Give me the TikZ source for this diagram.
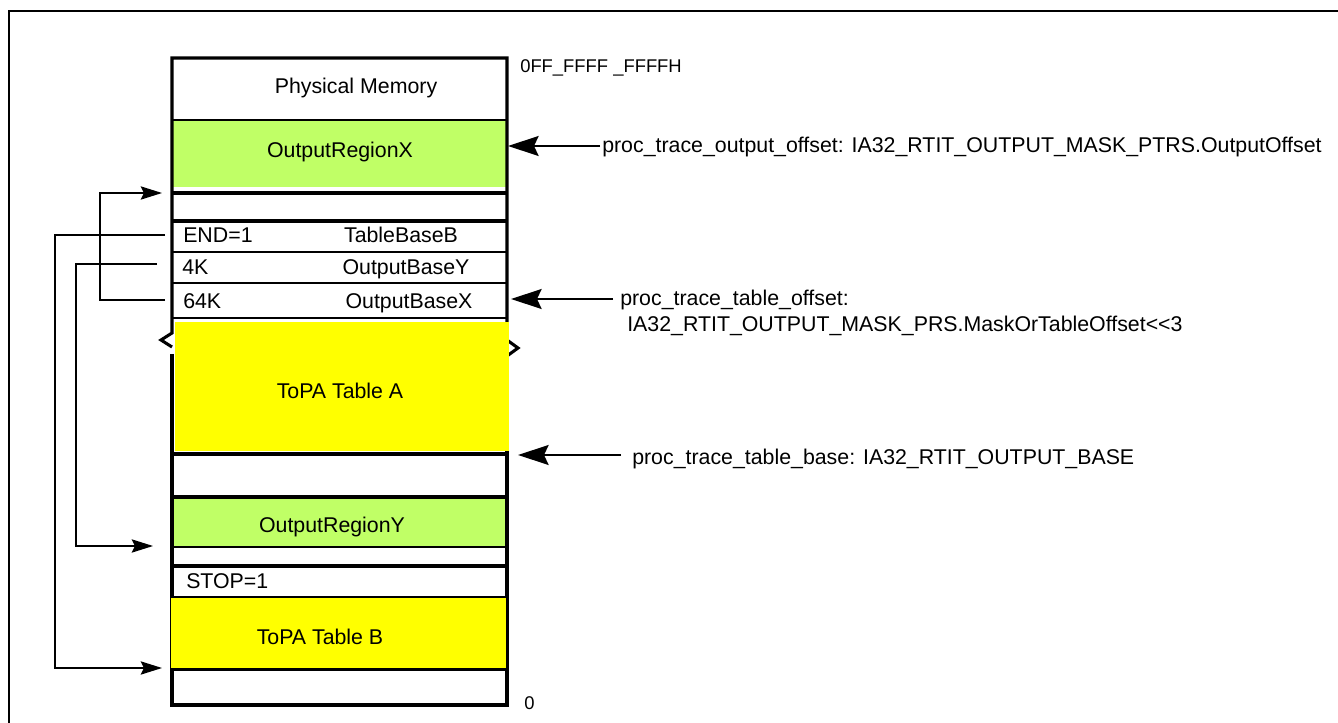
\documentclass[tikz,border=0pt]{standalone}
\usepackage{fontspec}
\setmainfont{Liberation Sans}
\usetikzlibrary{arrows.meta}
\definecolor{limegreen}{RGB}{192,255,102}
\definecolor{topayellow}{RGB}{255,255,0}
\begin{document}
\begin{tikzpicture}[x=0.75pt,y=-0.75pt,
  lbl/.style={font=\fontsize{16}{19}\selectfont, inner sep=0pt, anchor=base},
  lbll/.style={lbl, anchor=base west},
  addr/.style={font=\fontsize{13.8}{16}\selectfont, inner sep=0pt, anchor=base west},
  border/.style={line width=2.3pt, line join=miter},
  hthick/.style={line width=2.3pt},
  hthin/.style={line width=1pt},
  lconn/.style={line width=1pt, -{Stealth[length=16pt, width=10pt, inset=2.5pt]}},
  rconn/.style={line width=1pt, -{Stealth[length=23pt, width=15pt, inset=3.5pt]}}]
\useasboundingbox (0,0) rectangle (1338,723);
% outer frame
\draw[line width=1.5pt] (8.5,730) -- (8.5,11) -- (1345,11);
% green fills
\fill[limegreen] (172,121) rectangle (506,187);
\fill[limegreen] (172,498) rectangle (506,547);
% column borders with break
\draw[border] (172,347) -- (161,340) -- (172,333) -- (172,58) -- (507,58) -- (507,340) -- (518,348) -- (507,356);
\draw[border] (172,354) -- (172,705) -- (507,705) -- (507,358);
% horizontal lines
\foreach \yy in {193,221,454,497,566,669} \draw[hthick] (172,\yy) -- (507,\yy);
\foreach \yy in {120,252,283,318,547,597} \draw[hthin] (172,\yy) -- (507,\yy);
% yellow tables
\fill[topayellow] (175,322) rectangle (508.5,451);
\fill[topayellow] (170.5,598) rectangle (505.5,667.5);
% texts
\node[lbl] (pm) at (356,94) {Physical Memory};
\node[lbl] (orx) at (340,158) {OutputRegionX};
\node[lbll] (end) at (183,243) {END=1};
\node[lbl] (tbb) at (401,243) {TableBaseB};
\node[lbll] (k4) at (182,275) {4K};
\node[lbl] (oby) at (406,275) {OutputBaseY};
\node[lbll] (k64) at (183,309) {64K};
\node[lbl] (obx) at (409,309) {OutputBaseX};
\node[lbl] (ta) at (340,398) {ToPA Table A};
\node[lbl] (ory) at (332,532) {OutputRegionY};
\node[lbll] (stop) at (186,588) {STOP=1};
\node[lbl] (tb) at (320,644) {ToPA Table B};
\node[addr] (top) at (520,72.5) {0FF\_FFFF \_FFFFH};
\node[addr] (zero) at (524,709) {0};
\node[lbll] (t1) at (602,153) {proc\_trace\_output\_offset: IA32\_RTIT\_OUTPUT\_MASK\_PTRS.OutputOffset};
\node[lbll] (t2) at (620,306) {proc\_trace\_table\_offset:};
\node[lbll] (t2b) at (627,332) {IA32\_RTIT\_OUTPUT\_MASK\_PRS.MaskOrTableOffset<{}<3};
\node[lbll] (t3) at (632,464) {proc\_trace\_table\_base: IA32\_RTIT\_OUTPUT\_BASE};
% left connectors
\coordinate (s64) at (165,300); \coordinate (c64a) at (100,300);
\coordinate (c64b) at (100,193); \coordinate (e64) at (162,193);
\draw[lconn] (s64) -- (c64a) -- (c64b) -- (e64);
\coordinate (sEnd) at (165,235); \coordinate (cEnda) at (55,235);
\coordinate (cEndb) at (55,668); \coordinate (eEnd) at (162,668);
\draw[lconn] (sEnd) -- (cEnda) -- (cEndb) -- (eEnd);
\coordinate (s4k) at (157,264); \coordinate (c4ka) at (76,264);
\coordinate (c4kb) at (76,546); \coordinate (e4k) at (153,546);
\draw[lconn] (s4k) -- (c4ka) -- (c4kb) -- (e4k);
% right arrows
\coordinate (startX) at (600,146); \coordinate (tipX) at (508,146);
\draw[rconn] (startX) -- (tipX);
\coordinate (startT) at (613,299); \coordinate (tipT) at (511,299);
\draw[rconn] (startT) -- (tipT);
\coordinate (startB) at (621,455); \coordinate (tipB) at (518,455);
\draw[rconn] (startB) -- (tipB);
\end{tikzpicture}
\end{document}
